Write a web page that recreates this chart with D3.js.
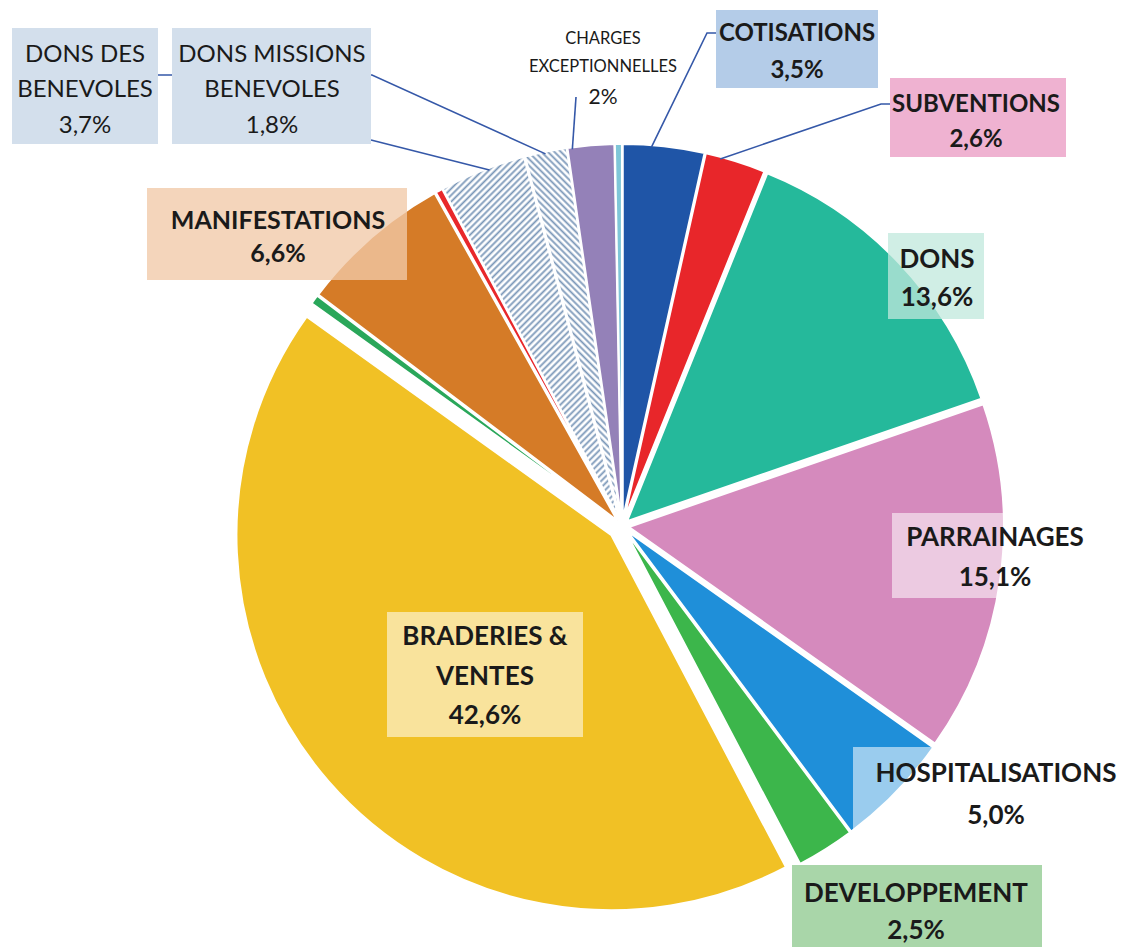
<html><head>
<script src="https://cdnjs.cloudflare.com/ajax/libs/d3/7.8.5/d3.min.js"></script>
<style>
body { margin: 0; background: #fff; }
svg { display: block; font-family: Lato, "Open Sans", sans-serif; }
</style>
</head>
<body>
<div id="chart"></div>
<script>
// slices, clockwise from 12 o'clock
const categories = ["COTISATIONS", "SUBVENTIONS", "DONS", "PARRAINAGES", "HOSPITALISATIONS",
    "DEVELOPPEMENT", "BRADERIES & VENTES", "AUTRE 1", "MANIFESTATIONS", "AUTRE 2",
    "DONS DES BENEVOLES", "DONS MISSIONS BENEVOLES", "CHARGES EXCEPTIONNELLES", "AUTRE 3"];
const values = [3.5, 2.6, 13.6, 15.1, 5.0, 2.5, 42.6, 0.4, 6.6, 0.3, 3.7, 1.8, 2.0, 0.3];
const valueLabels = ["3,5%", "2,6%", "13,6%", "15,1%", "5,0%", "2,5%", "42,6%", null, "6,6%", null,
    "3,7%", "1,8%", "2%", null];
const colors = ["#1f55a7", "#e8262a", "#25b99b", "#d58abd", "#1f8fd9", "#3cb64b", "#f1c125",
    "#2aa75a", "#d57b27", "#e8282b", "url(#hatchA)", "url(#hatchB)", "#9481b8", "#7fc6d8"];

// label boxes: slice index, text lines, box, fill
const labels = [
    {i: 0, lines: ["COTISATIONS"], box: [716, 10, 162, 78], fill: "#b4cce8", op: 1, cx: 797, cy: [32, 69], bold: true, fs: 24},
    {i: 1, lines: ["SUBVENTIONS"], box: [890, 78, 176, 79], fill: "#efb2d1", op: 1, cx: 976, cy: [103, 138], bold: true, fs: 24},
    {i: 2, lines: ["DONS"], box: [888, 233, 96, 86], fill: "#c0e8dc", op: 0.75, cx: 937, cy: [259, 297], bold: true},
    {i: 3, lines: ["PARRAINAGES"], box: [892, 513, 210, 85], fill: "#fff", op: 0.55, cx: 995, cy: [537, 577], bold: true},
    {i: 4, lines: ["HOSPITALISATIONS"], box: [853, 747, 273, 83], fill: "#fff", op: 0.55, cx: 996, cy: [773, 815], bold: true},
    {i: 5, lines: ["DEVELOPPEMENT"], box: [792, 865, 250, 82], fill: "#a9d6a9", op: 1, cx: 916, cy: [893, 930], bold: true},
    {i: 6, lines: ["BRADERIES &", "VENTES"], box: [387, 612, 196, 125], fill: "#fff", op: 0.55, cx: 485, cy: [636, 676, 715], bold: true},
    {i: 8, lines: ["MANIFESTATIONS"], box: [147, 188, 260, 92], fill: "#f1c9a8", op: 0.78, cx: 278, cy: [220, 253], bold: true, fs: 25},
    {i: 10, lines: ["DONS DES", "BENEVOLES"], box: [12, 28, 146, 116], fill: "#d3dfec", op: 1, cx: 85, cy: [53, 88, 124], bold: false},
    {i: 11, lines: ["DONS MISSIONS", "BENEVOLES"], box: [172, 28, 199, 116], fill: "#d3dfec", op: 1, cx: 272, cy: [53, 88, 124], bold: false},
    {i: 12, lines: ["CHARGES", "EXCEPTIONNELLES"], box: null, cx: 603, cy: [38, 66, 96], bold: false, small: true}
];

// leader lines: start points, then a point on the slice's outer arc
const leaders = [
    {pts: [[158, 75], [372, 75]], i: 10, frac: 1.25},
    {pts: [[371, 140]], i: 11, frac: -0.9},
    {pts: [[576, 97]], i: 12, frac: 0.1},
    {pts: [[716, 33], [707, 33]], i: 0, frac: 0.35},
    {pts: [[890, 104], [881, 104]], i: 1, frac: 0.25}
];

const width = 1126, height = 947;
const cx = 622, cy = 526, radius = 375;
const explode = i => i === 6 ? 14 : 7;

const svg = d3.select("#chart").append("svg")
    .attr("width", width)
    .attr("height", height);

// hatch patterns for the two "dons benevoles" slices
const defs = svg.append("defs");
[["hatchA", 45], ["hatchB", -45]].forEach(([id, rot]) => {
    const p = defs.append("pattern")
        .attr("id", id)
        .attr("patternUnits", "userSpaceOnUse")
        .attr("width", 4.6).attr("height", 4.6)
        .attr("patternTransform", `rotate(${rot})`);
    p.append("rect").attr("width", 4.6).attr("height", 4.6).attr("fill", "#fff");
    p.append("line").attr("x1", 1.3).attr("x2", 1.3).attr("y1", 0).attr("y2", 4.6)
        .attr("stroke", "#7a97b8").attr("stroke-width", 1.8);
});

const pie = d3.pie().sort(null).value(d => d)(values);
const arc = d3.arc().innerRadius(0).outerRadius(radius);

const offset = (d, i) => {
    const mid = (d.startAngle + d.endAngle) / 2;
    return [Math.sin(mid) * explode(i), -Math.cos(mid) * explode(i)];
};

const g = svg.append("g").attr("transform", `translate(${cx},${cy})`);

// leader lines first, so boxes sit on top
leaders.forEach(l => {
    const d = pie[l.i];
    const a = d.startAngle + l.frac * (d.endAngle - d.startAngle);
    const [ox, oy] = offset(d, l.i);
    const end = [cx + ox + Math.sin(a) * (radius - 2), cy + oy - Math.cos(a) * (radius - 2)];
    svg.append("path")
        .datum(l.pts.concat([end]))
        .attr("d", d3.line())
        .attr("fill", "none")
        .attr("stroke", "#3558a8")
        .attr("stroke-width", 1.6);
});

g.selectAll("path.slice")
    .data(pie)
    .join("path")
    .attr("class", "slice")
    .attr("transform", (d, i) => `translate(${offset(d, i)})`)
    .attr("d", arc)
    .attr("fill", (d, i) => colors[i])
    .attr("stroke", "#fff")
    .attr("stroke-width", 2);

// labels
labels.forEach(l => {
    const lg = svg.append("g");
    if (l.box) {
        lg.append("rect")
            .attr("x", l.box[0]).attr("y", l.box[1])
            .attr("width", l.box[2]).attr("height", l.box[3])
            .attr("fill", l.fill)
            .attr("fill-opacity", l.op);
    }
    const texts = l.lines.concat([valueLabels[l.i]]);
    texts.forEach((t, k) => {
        let fs = l.fs || (l.bold ? 26 : 24);
        if (l.small) fs = k < 2 ? 16.5 : 21;
        lg.append("text")
            .attr("x", l.cx)
            .attr("y", l.cy[k] + fs * 0.36)
            .attr("text-anchor", "middle")
            .style("font-size", fs + "px")
            .style("font-weight", l.bold ? "bold" : "normal")
            .attr("fill", "#1a1a1a")
            .text(t);
    });
});
</script>
</body></html>
